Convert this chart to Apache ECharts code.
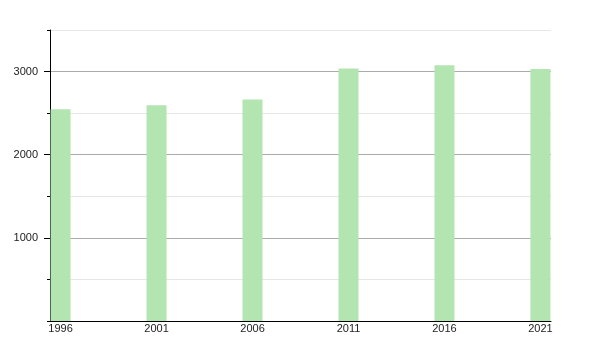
<!DOCTYPE html>
<html>
<head>
<meta charset="utf-8">
<script src="https://cdn.jsdelivr.net/npm/echarts@6/dist/echarts.min.js"></script>
<style>html,body{margin:0;padding:0;background:#fff;}#c{width:600px;height:350px;}</style>
</head>
<body>
<div id="c"></div>
<script>
const years = [1996, 2001, 2006, 2011, 2016, 2021];
const values = [2546, 2594, 2663, 3038, 3076, 3031];
const yLabels = [1000, 2000, 3000];

const chart = echarts.init(document.getElementById('c'), null, {renderer: 'canvas'});
chart.setOption({
  animation: false,
  backgroundColor: '#fff',
  grid: {left: 50, right: 49, top: 30, bottom: 29, containLabel: false},
  xAxis: {
    type: 'value',
    min: 1995.45,
    max: 2021.55,
    axisLine: {show: true, lineStyle: {color: '#000', width: 1}},
    axisTick: {show: false},
    splitLine: {show: false},
    axisLabel: {
      customValues: years,
      margin: 2,
      color: '#222',
      fontSize: 11,
      fontFamily: 'Liberation Sans, Arial, sans-serif',
      formatter: v => String(Math.round(v))
    }
  },
  yAxis: [{
    type: 'value',
    min: 0,
    max: 3500,
    interval: 500,
    position: 'left',
    axisLine: {show: false},
    axisTick: {show: true, length: 3, lineStyle: {color: '#000'}},
    splitLine: {show: true, lineStyle: {color: ['#ffffff', '#e6e6e6', '#ababab', '#e6e6e6', '#ababab', '#e6e6e6', '#ababab', '#e6e6e6'], width: 1}},
    axisLabel: {show: false}
  }, {
    type: 'value',
    min: 0,
    max: 3500,
    interval: 500,
    position: 'left',
    axisLine: {show: true, lineStyle: {color: '#000', width: 1}},
    axisTick: {show: true, customValues: yLabels, length: 6, lineStyle: {color: '#000'}},
    splitLine: {show: false},
    axisLabel: {
      customValues: yLabels,
      margin: 12,
      color: '#222',
      fontSize: 11,
      fontFamily: 'Liberation Sans, Arial, sans-serif',
      formatter: v => String(Math.round(v))
    }
  }],
  series: [{
    type: 'bar',
    yAxisIndex: 0,
    barWidth: 20,
    itemStyle: {color: '#b3e5b0'},
    data: years.map((y, i) => [y, values[i]])
  }]
});
</script>
</body>
</html>
